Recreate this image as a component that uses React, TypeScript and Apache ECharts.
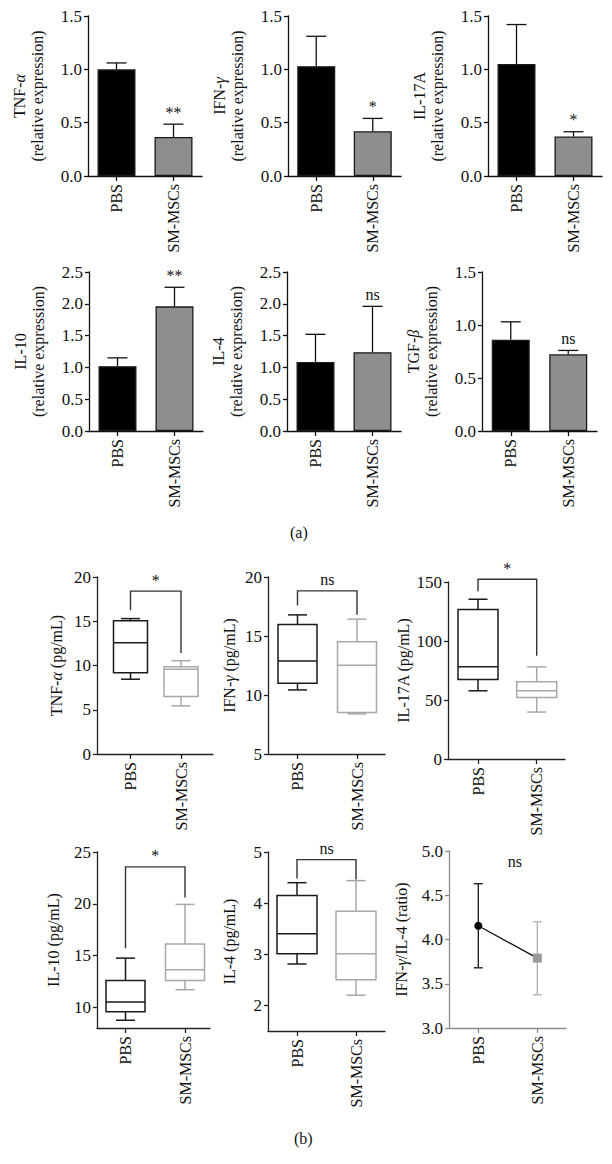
import React, { useEffect, useRef } from "react";
import * as echarts from "echarts";

const FONT = "'Liberation Serif', 'Times New Roman', 'DejaVu Serif', serif";
const groups = ["PBS", "SM-MSCs"];

// (a) relative expression: mean and SEM (upper error only)
const tnfRelMean = [1.0, 0.366];
const tnfRelSem = [0.06, 0.12];
const ifnRelMean = [1.03, 0.42];
const ifnRelSem = [0.28, 0.12];
const il17RelMean = [1.05, 0.37];
const il17RelSem = [0.37, 0.045];
const il10RelMean = [1.02, 1.96];
const il10RelSem = [0.13, 0.3];
const il4RelMean = [1.085, 1.24];
const il4RelSem = [0.435, 0.72];
const tgfRelMean = [0.862, 0.724];
const tgfRelSem = [0.168, 0.036];
const relSig = ["**", "*", "*", "**", "ns", "ns"];

// (b) box plots: [min, q1, median, q3, max]
const tnfBoxPBS = [8.45, 9.19, 12.57, 15.05, 15.3];
const tnfBoxSM = [5.44, 6.49, 9.57, 9.87, 10.54];
const ifnBoxPBS = [10.43, 11.0, 12.88, 15.98, 16.79];
const ifnBoxSM = [8.4, 8.51, 12.52, 14.51, 16.43];
const il17BoxPBS = [57.8, 67.4, 78.1, 126.6, 135.4];
const il17BoxSM = [39.8, 52.2, 57.8, 65.4, 78.1];
const il10BoxPBS = [8.75, 9.56, 10.52, 12.6, 14.75];
const il10BoxSM = [11.7, 12.6, 13.63, 16.12, 19.94];
const il4BoxPBS = [2.81, 3.01, 3.4, 4.15, 4.4];
const il4BoxSM = [2.2, 2.5, 3.01, 3.84, 4.44];
// brackets: [top, PBS leg end, SM leg end]
const tnfBracket = [18.4, 16.25, 11.4];
const ifnBracket = [18.82, 17.58, 16.8];
const il17Bracket = [152.3, 142.1, 87.4];
const il10Bracket = [23.56, 15.7, 20.6];
const il4Bracket = [4.85, 4.48, 4.46];
const boxSig = ["*", "ns", "*", "*", "ns"];

// ratio: mean, lower, upper
const ratioMean = [4.155, 3.79];
const ratioLow = [3.68, 3.375];
const ratioHigh = [4.63, 4.2];
const ratioSig = "ns";

const TXT = "#111";
const TICK_FS = 17;
const CAT_FS = 16;
const NAME_FS = 16;

function baseText(size: number) {
  return { fontFamily: FONT, fontSize: size, color: TXT };
}

export default function App() {
  const ref = useRef<HTMLDivElement>(null);
  useEffect(() => {
    if (!ref.current) return;
    const chart = echarts.init(ref.current, null, { renderer: "svg" });

    const grid: any[] = [];
    const xAxis: any[] = [];
    const yAxis: any[] = [];
    const series: any[] = [];

    const greekRich = (size: number) => ({
      i: { fontFamily: FONT, fontSize: size, fontStyle: "italic", color: TXT },
    });

    const yAxisCfg = (idx: number, o: any) => ({
      type: "value",
      gridIndex: idx,
      min: o.min,
      max: o.max,
      interval: o.interval,
      axisLine: { show: true, onZero: false, lineStyle: { color: o.axisColor || "#111", width: 1.3 } },
      axisTick: { show: true, length: 4, customValues: o.ticks, lineStyle: { color: o.axisColor || "#111", width: 1.3 } },
      axisLabel: {
        ...baseText(TICK_FS),
        margin: 6,
        customValues: o.ticks,
        formatter: o.fmt,
      },
      splitLine: { show: false },
      name: o.name,
      nameLocation: "middle",
      nameRotate: 90,
      nameGap: o.nameGap,
      nameTextStyle: { ...baseText(NAME_FS), lineHeight: 18, rich: greekRich(NAME_FS) },
    });

    // ---- (a) bar panels ----
    const barPanels = [
      { l: 88, t: 16, w: 114, h: 160, mean: tnfRelMean, sem: tnfRelSem, max: 1.5, name: "TNF-{i|α}\n(relative expression)" },
      { l: 288, t: 16, w: 113, h: 160, mean: ifnRelMean, sem: ifnRelSem, max: 1.5, name: "IFN-{i|γ}\n(relative expression)" },
      { l: 488, t: 16, w: 114, h: 160, mean: il17RelMean, sem: il17RelSem, max: 1.5, name: "IL-17A\n(relative expression)" },
      { l: 89, t: 272, w: 114, h: 159, mean: il10RelMean, sem: il10RelSem, max: 2.5, name: "IL-10\n(relative expression)" },
      { l: 287, t: 272, w: 114, h: 159, mean: il4RelMean, sem: il4RelSem, max: 2.5, name: "IL-4\n(relative expression)" },
      { l: 482, t: 272, w: 115, h: 159, mean: tgfRelMean, sem: tgfRelSem, max: 1.5, name: "TGF-{i|β}\n(relative expression)" },
    ];

    barPanels.forEach((p, i) => {
      const gi = grid.length;
      grid.push({ left: p.l, top: p.t, width: p.w, height: p.h });
      xAxis.push({
        type: "category",
        gridIndex: gi,
        data: groups,
        axisLine: { show: true, lineStyle: { color: "#111", width: 1.3 } },
        axisTick: { show: true, alignWithLabel: true, length: 5, lineStyle: { color: "#111", width: 1.3 } },
        axisLabel: { ...baseText(CAT_FS), rotate: 90, margin: 8, interval: 0 },
      });
      yAxis.push(yAxisCfg(gi, { min: 0, max: p.max, interval: 0.5, fmt: (v: number) => v.toFixed(1), name: p.name, nameGap: 42 }));
      series.push({
        type: "bar",
        xAxisIndex: gi,
        yAxisIndex: gi,
        barWidth: 38,
        data: p.mean.map((v, j) => ({
          value: v,
          itemStyle: { color: j === 0 ? "#000" : "#8e8e8e", borderColor: "#1a1a1a", borderWidth: 1.3 },
        })),
      });
      const sig = relSig[i];
      series.push({
        type: "custom",
        xAxisIndex: gi,
        yAxisIndex: gi,
        z: 5,
        data: p.mean.map((m, j) => [j, m, m + p.sem[j]]),
        renderItem: (params: any, api: any) => {
          const x = api.value(0);
          const a = api.coord([x, api.value(1)]);
          const b = api.coord([x, api.value(2)]);
          const st = { stroke: "#111", lineWidth: 1.3 };
          const children: any[] = [
            { type: "line", shape: { x1: a[0], y1: a[1], x2: b[0], y2: b[1] }, style: st },
            { type: "line", shape: { x1: b[0] - 10, y1: b[1], x2: b[0] + 10, y2: b[1] }, style: st },
          ];
          if (params.dataIndex === 1) {
            children.push({
              type: "text",
              x: b[0],
              y: b[1] - 4,
              style: { text: sig, fontFamily: FONT, fontSize: 16, fill: TXT, align: "center", verticalAlign: "bottom" },
            });
          }
          return { type: "group", children };
        },
      });
    });

    // ---- (b) box panels ----
    const valueX = (gi: number, p: any) => {
      const unit = p.sx - p.px;
      const min = -(p.px - p.l) / unit;
      const max = 1 + (p.l + p.w - p.sx) / unit;
      return {
        type: "value",
        gridIndex: gi,
        min,
        max,
        axisLine: { show: true, onZero: false, lineStyle: { color: p.axisColor || "#222", width: 1.3 } },
        axisTick: { show: true, length: 5, customValues: [0, 1], lineStyle: { color: p.axisColor || "#222", width: 1.3 } },
        axisLabel: { ...baseText(CAT_FS), rotate: 90, margin: 8, customValues: [0, 1], formatter: (v: number) => groups[Math.round(v)] },
        splitLine: { show: false },
      };
    };

    const boxPanels = [
      { l: 97, t: 577, w: 116, h: 177, px: 130.5, sx: 181, bw: 34, pbs: tnfBoxPBS, sm: tnfBoxSM, br: tnfBracket, min: 0, max: 20, interval: 5, name: "TNF-{i|α} (pg/mL)", gap: 32 },
      { l: 268, t: 577, w: 117, h: 177, px: 297.5, sx: 357, bw: 39, pbs: ifnBoxPBS, sm: ifnBoxSM, br: ifnBracket, min: 5, max: 20, interval: 5, name: "IFN-{i|γ} (pg/mL)", gap: 30 },
      { l: 448, t: 582, w: 117, h: 177, px: 478, sx: 536.7, bw: 40, pbs: il17BoxPBS, sm: il17BoxSM, br: il17Bracket, min: 0, max: 150, interval: 50, name: "IL-17A (pg/mL)", gap: 28 },
      { l: 97, t: 852, w: 113, h: 176, px: 125.5, sx: 185, bw: 39, pbs: il10BoxPBS, sm: il10BoxSM, br: il10Bracket, min: 8, max: 25, ticks: [10, 15, 20, 25], name: "IL-10 (pg/mL)", gap: 35 },
      { l: 268, t: 852, w: 117, h: 179, px: 297, sx: 356, bw: 40, pbs: il4BoxPBS, sm: il4BoxSM, br: il4Bracket, min: 1.5, max: 5, ticks: [2, 3, 4, 5], name: "IL-4 (pg/mL)", gap: 30 },
    ];

    boxPanels.forEach((p, i) => {
      const gi = grid.length;
      grid.push({ left: p.l, top: p.t, width: p.w, height: p.h });
      xAxis.push(valueX(gi, p));
      yAxis.push(yAxisCfg(gi, { min: p.min, max: p.max, interval: p.interval, ticks: p.ticks, axisColor: "#222", fmt: (v: number) => String(v), name: p.name, nameGap: p.gap }));
      const bw = p.bw;
      series.push({
        type: "custom",
        xAxisIndex: gi,
        yAxisIndex: gi,
        data: [[0, ...p.pbs], [1, ...p.sm]],
        renderItem: (params: any, api: any) => {
          const x = api.value(0);
          const c = (v: number) => api.coord([x, v]);
          const lo = c(api.value(1));
          const q1 = c(api.value(2));
          const md = c(api.value(3));
          const q3 = c(api.value(4));
          const hi = c(api.value(5));
          const cx = lo[0];
          const color = params.dataIndex === 0 ? "#1a1a1a" : "#a8a8a8";
          const st = { stroke: color, lineWidth: 1.5, fill: null };
          const cap = 9.5;
          return {
            type: "group",
            children: [
              { type: "rect", shape: { x: cx - bw / 2, y: q3[1], width: bw, height: q1[1] - q3[1] }, style: { stroke: color, lineWidth: 1.5, fill: "rgba(0,0,0,0)" } },
              { type: "line", shape: { x1: cx - bw / 2, y1: md[1], x2: cx + bw / 2, y2: md[1] }, style: st },
              { type: "line", shape: { x1: cx, y1: q3[1], x2: cx, y2: hi[1] }, style: st },
              { type: "line", shape: { x1: cx - cap, y1: hi[1], x2: cx + cap, y2: hi[1] }, style: st },
              { type: "line", shape: { x1: cx, y1: q1[1], x2: cx, y2: lo[1] }, style: st },
              { type: "line", shape: { x1: cx - cap, y1: lo[1], x2: cx + cap, y2: lo[1] }, style: st },
            ],
          };
        },
      });
      const sig = boxSig[i];
      series.push({
        type: "custom",
        xAxisIndex: gi,
        yAxisIndex: gi,
        data: [p.br],
        renderItem: (params: any, api: any) => {
          const top = api.value(0);
          const a = api.coord([0, api.value(1)]);
          const b = api.coord([0, top]);
          const cc = api.coord([1, top]);
          const d = api.coord([1, api.value(2)]);
          return {
            type: "group",
            children: [
              { type: "polyline", shape: { points: [a, b, cc, d] }, style: { stroke: "#333", lineWidth: 1.4, fill: null } },
              {
                type: "text",
                x: (b[0] + cc[0]) / 2,
                y: b[1] - 3,
                style: { text: sig, fontFamily: FONT, fontSize: 16, fill: TXT, align: "center", verticalAlign: "bottom" },
              },
            ],
          };
        },
      });
    });

    // ---- ratio panel ----
    {
      const p = { l: 449, t: 851, w: 117, h: 177, px: 478.3, sx: 537.3, axisColor: "#8c8c8c" };
      const gi = grid.length;
      grid.push({ left: p.l, top: p.t, width: p.w, height: p.h });
      xAxis.push(valueX(gi, p));
      yAxis.push(yAxisCfg(gi, { min: 3, max: 5, interval: 0.5, axisColor: "#8c8c8c", fmt: (v: number) => v.toFixed(1), name: "IFN-{i|γ}/IL-4 (ratio)", nameGap: 39 }));
      series.push({
        type: "custom",
        xAxisIndex: gi,
        yAxisIndex: gi,
        data: ratioMean.map((_, j) => [j, ratioLow[j], ratioHigh[j]]),
        renderItem: (params: any, api: any) => {
          const x = api.value(0);
          const a = api.coord([x, api.value(1)]);
          const b = api.coord([x, api.value(2)]);
          const color = params.dataIndex === 0 ? "#111" : "#b0b0b0";
          const st = { stroke: color, lineWidth: 1.3 };
          return {
            type: "group",
            children: [
              { type: "line", shape: { x1: a[0], y1: a[1], x2: b[0], y2: b[1] }, style: st },
              { type: "line", shape: { x1: a[0] - 4.5, y1: a[1], x2: a[0] + 4.5, y2: a[1] }, style: st },
              { type: "line", shape: { x1: b[0] - 4.5, y1: b[1], x2: b[0] + 4.5, y2: b[1] }, style: st },
            ],
          };
        },
      });
      series.push({
        type: "line",
        xAxisIndex: gi,
        yAxisIndex: gi,
        lineStyle: { color: "#111", width: 1.3 },
        z: 5,
        data: [
          { value: [0, ratioMean[0]], symbol: "circle", symbolSize: 8, itemStyle: { color: "#000" } },
          { value: [1, ratioMean[1]], symbol: "rect", symbolSize: 9, itemStyle: { color: "#9a9a9a" } },
        ],
      });
      series.push({
        type: "custom",
        xAxisIndex: gi,
        yAxisIndex: gi,
        data: [[0.5, 4.88]],
        renderItem: (params: any, api: any) => {
          const pt = api.coord([api.value(0), api.value(1)]);
          return {
            type: "text",
            x: pt[0] + 7,
            y: pt[1],
            style: { text: ratioSig, fontFamily: FONT, fontSize: 16, fill: TXT, align: "center", verticalAlign: "middle" },
          };
        },
      });
    }

    chart.setOption({
      animation: false,
      backgroundColor: "#fff",
      grid,
      xAxis,
      yAxis,
      series,
      graphic: [
        { type: "text", left: 290, top: 524, style: { text: "(a)", fontFamily: FONT, fontSize: 16, fill: TXT } },
        { type: "text", left: 294, top: 1130, style: { text: "(b)", fontFamily: FONT, fontSize: 16, fill: TXT } },
      ],
    });
    return () => chart.dispose();
  }, []);
  return <div ref={ref} style={{ position: "absolute", left: 0, top: 0, width: 612, height: 1164 }} />;
}
